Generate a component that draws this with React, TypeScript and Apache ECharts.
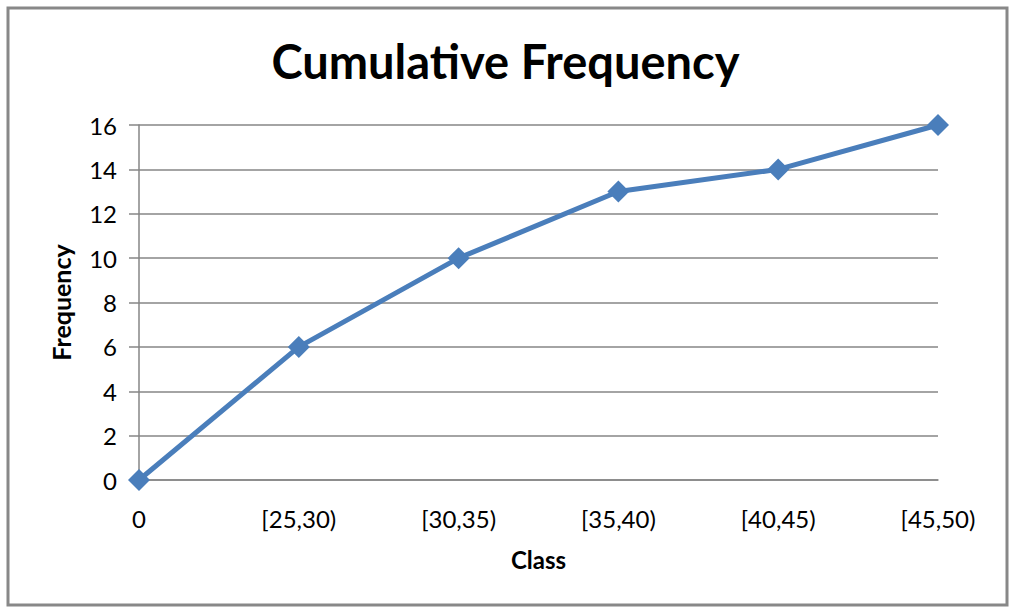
import React, { useEffect, useRef } from "react";
import * as echarts from "echarts";

const categories = ["0", "[25,30)", "[30,35)", "[35,40)", "[40,45)", "[45,50)"];
const cumulative = [0, 6, 10, 13, 14, 16];
const titleText = "Cumulative Frequency";
const xName = "Class";
const yName = "Frequency";

const FONT = "Lato, 'Open Sans', sans-serif";

export default function App() {
  const ref = useRef<HTMLDivElement>(null);
  useEffect(() => {
    document.body.style.margin = "0";
    const chart = echarts.init(ref.current!, undefined, { renderer: "svg" });
    chart.setOption({
      animation: false,
      backgroundColor: "#ffffff",
      title: {
        text: titleText,
        left: "center",
        top: 32,
        textStyle: { fontFamily: FONT, fontSize: 47, fontWeight: "bold", color: "#000" },
      },
      graphic: [
        {
          type: "rect",
          shape: { x: 8, y: 8, width: 999, height: 597 },
          style: { fill: "none", stroke: "#888888", lineWidth: 3 },
          silent: true,
        },
      ],
      grid: { left: 139, right: 73, top: 125, bottom: 130 },
      xAxis: {
        type: "category",
        data: categories,
        boundaryGap: false,
        name: xName,
        nameLocation: "middle",
        nameGap: 67,
        nameTextStyle: { fontFamily: FONT, fontSize: 24, fontWeight: "bold", color: "#000" },
        axisLine: { lineStyle: { color: "#868686", width: 1.5 } },
        axisTick: { show: false },
        axisLabel: { fontFamily: FONT, fontSize: 24, color: "#000", margin: 26 },
        splitLine: { show: false },
      },
      yAxis: {
        type: "value",
        min: 0,
        max: 16,
        interval: 2,
        name: yName,
        nameLocation: "middle",
        nameGap: 66,
        nameTextStyle: { fontFamily: FONT, fontSize: 25, fontWeight: "bold", color: "#000" },
        axisLine: { show: true, lineStyle: { color: "#868686", width: 1.5 } },
        axisTick: { show: true, length: 10, lineStyle: { color: "#868686", width: 1.5 } },
        axisLabel: { fontFamily: FONT, fontSize: 24, color: "#000", margin: 22 },
        splitLine: { show: true, lineStyle: { color: "#868686", width: 1.5 } },
      },
      series: [
        {
          type: "line",
          data: cumulative,
          symbol: "diamond",
          symbolSize: 22,
          clip: false,
          lineStyle: { color: "#4A7EBB", width: 5 },
          itemStyle: { color: "#4A7EBB" },
        },
      ],
    });
    return () => chart.dispose();
  }, []);
  return <div ref={ref} style={{ width: 1011, height: 610 }} />;
}
